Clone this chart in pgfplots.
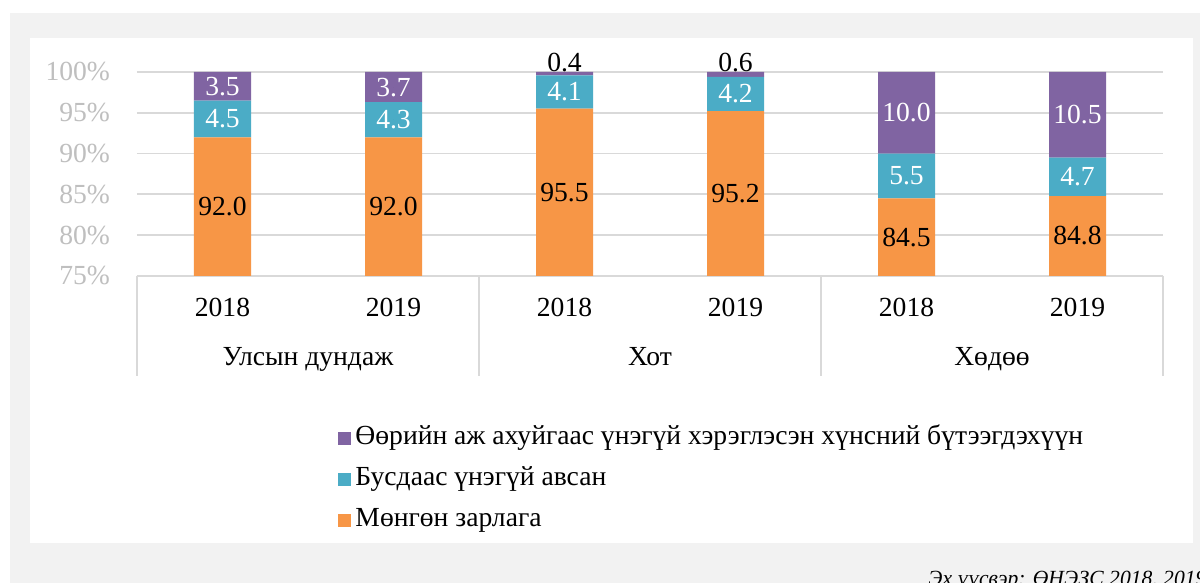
\documentclass[border=0pt]{standalone}
\usepackage{fontspec}
\setmainfont{Liberation Serif}
\usepackage{pgfplots}
\pgfplotsset{compat=1.18}
\definecolor{bgframe}{HTML}{F2F2F2}
\definecolor{cashorange}{HTML}{F79646}
\definecolor{freeblue}{HTML}{4BACC6}
\definecolor{ownpurple}{HTML}{8064A2}
\definecolor{gridgray}{HTML}{D9D9D9}
\definecolor{ticktext}{HTML}{BFBFBF}
\newcommand{\chartfont}{\fontsize{13.8}{16.5}\selectfont}
\pgfplotsset{
  panel/.style={at={(68.5pt,153.5pt)},anchor=south west,
    width=513pt,height=102pt,scale only axis,
    xmin=-0.5,xmax=5.5,ymin=75,ymax=100},
  nolabelmark/.style={only marks,mark=*,mark size=0pt,
    mark options={draw=none,fill=none}},
}

\begin{document}
\begin{tikzpicture}
\useasboundingbox (0,0) rectangle (600pt,291.5pt);
\clip (0,0) rectangle (600pt,291.5pt);
\fill[white] (0,0) rectangle (600pt,291.5pt);
\fill[bgframe] (5pt,0) rectangle (600pt,285pt);
\fill[white] (15pt,20pt) rectangle (596.5pt,272.5pt);

% bars
\begin{axis}[panel,
  ybar stacked,bar width=28.5pt,
  axis x line*=bottom,axis y line*=left,
  x axis line style={draw=gridgray,line width=0.9pt,-},
  y axis line style={draw=none},
  major tick length=0pt,
  ymajorgrids,grid style={draw=gridgray,line width=0.9pt},
  ytick={75,80,85,90,95,100},
  yticklabels={75\%,80\%,85\%,90\%,95\%,100\%},
  yticklabel style={font=\chartfont,text=ticktext,anchor=east,xshift=-10pt},
  xtick={0,...,5},
  xticklabels={2018,2019,2018,2019,2018,2019},
  xticklabel style={font=\chartfont,anchor=base,yshift=-20.5pt},
  legend image code/.code={\fill[#1] (0pt,-3.25pt) rectangle (6.5pt,3.25pt);},
  reverse legend,
  legend style={at={(0.196,-0.725)},anchor=north west,draw=none,fill=none,
    font=\chartfont,row sep=6.5pt,inner sep=0pt,
    nodes={inner xsep=2pt,inner ysep=1pt,text height=9pt,text depth=3pt}},
  legend cell align=left]
\addplot[fill=cashorange,draw=none] coordinates
  {(0,92.0)(1,92.0)(2,95.5)(3,95.2)(4,84.5)(5,84.8)};
\addlegendentry{Мөнгөн зарлага}
\addplot[fill=freeblue,draw=none] coordinates
  {(0,4.5)(1,4.3)(2,4.1)(3,4.2)(4,5.5)(5,4.7)};
\addlegendentry{Бусдаас үнэгүй авсан}
\addplot[fill=ownpurple,draw=none] coordinates
  {(0,3.5)(1,3.7)(2,0.4)(3,0.6)(4,10.0)(5,10.5)};
\addlegendentry{Өөрийн аж ахуйгаас үнэгүй хэрэглэсэн хүнсний бүтээгдэхүүн}
\end{axis}

% data labels, category box
\begin{axis}[panel,hide axis,clip=false,
  point meta=explicit symbolic,
  nodes near coords,
  nodes near coords style={font=\chartfont,anchor=center,inner sep=0pt}]
\addplot[nolabelmark,nodes near coords style={text=black}] coordinates
  {(0,83.5)[92.0] (1,83.5)[92.0] (2,85.25)[95.5] (3,85.1)[95.2]
   (4,79.75)[84.5] (5,79.9)[84.8] (2,101.15)[0.4] (3,101.15)[0.6]};
\addplot[nolabelmark,nodes near coords style={text=white}] coordinates
  {(0,94.25)[4.5] (1,94.15)[4.3] (2,97.55)[4.1] (3,97.3)[4.2]
   (4,87.25)[5.5] (5,87.15)[4.7]
   (0,98.25)[3.5] (1,98.15)[3.7] (4,95.0)[10.0] (5,94.75)[10.5]};
\draw[gridgray,line width=0.9pt] (axis cs:-0.5,75) -- ++(0pt,-50pt);
\draw[gridgray,line width=0.9pt] (axis cs:1.5,75) -- ++(0pt,-50pt);
\draw[gridgray,line width=0.9pt] (axis cs:3.5,75) -- ++(0pt,-50pt);
\draw[gridgray,line width=0.9pt] (axis cs:5.5,75) -- ++(0pt,-50pt);
\node[font=\chartfont,anchor=base] at ([yshift=-45pt]axis cs:0.5,75) {Улсын дундаж};
\node[font=\chartfont,anchor=base] at ([yshift=-45pt]axis cs:2.5,75) {Хот};
\node[font=\chartfont,anchor=base] at ([yshift=-45pt]axis cs:4.5,75) {Хөдөө};
\end{axis}

% source line, cut by the lower edge as in the original
\node[font=\fontsize{10.8}{13}\selectfont\itshape,anchor=base west,inner sep=0pt]
  at (464pt,-1.5pt) {Эх үүсвэр: ӨНЭЗС 2018, 2019};
\end{tikzpicture}
\end{document}
